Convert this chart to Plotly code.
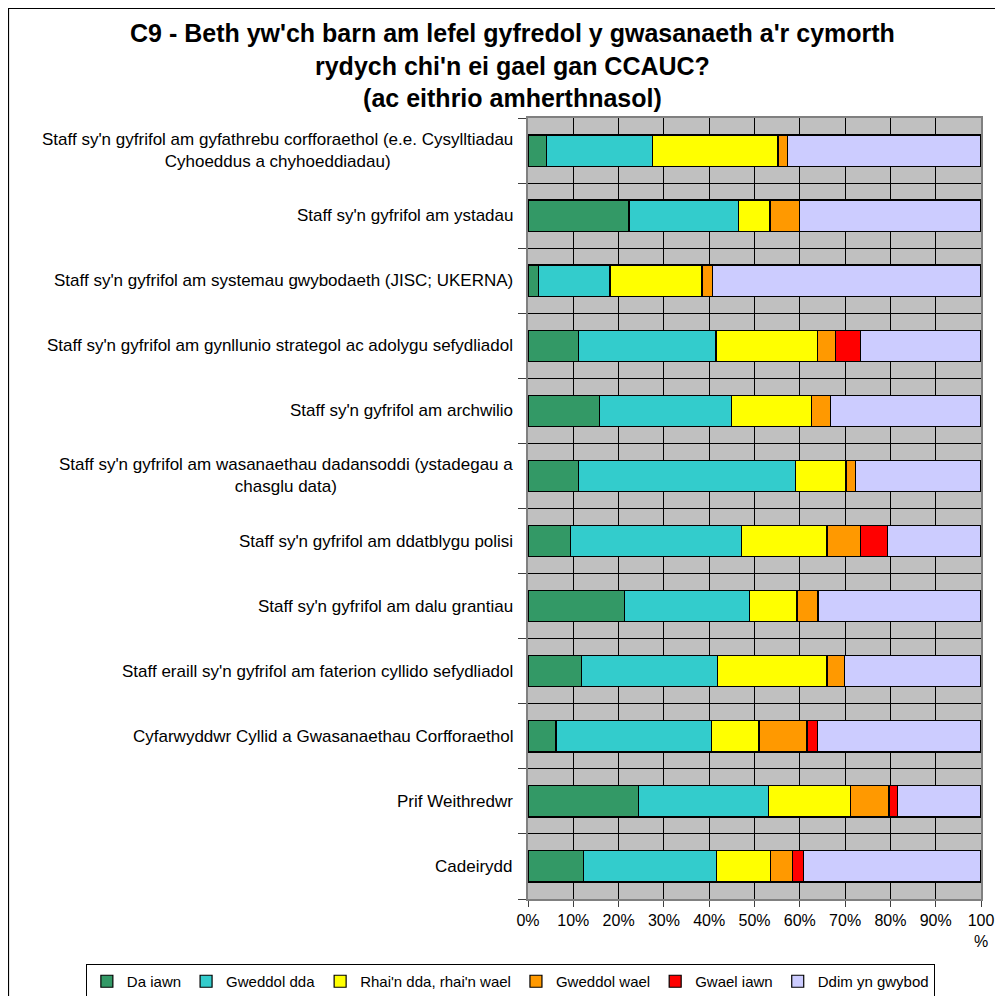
import plotly.graph_objects as go

categories = [
    "Staff sy'n gyfrifol am gyfathrebu corfforaethol (e.e. Cysylltiadau<br>Cyhoeddus a chyhoeddiadau)",
    "Staff sy'n gyfrifol am ystadau",
    "Staff sy'n gyfrifol am systemau gwybodaeth (JISC; UKERNA)",
    "Staff sy'n gyfrifol am gynllunio strategol ac adolygu sefydliadol",
    "Staff sy'n gyfrifol am archwilio",
    "Staff sy'n gyfrifol am wasanaethau dadansoddi (ystadegau a<br>chasglu data)",
    "Staff sy'n gyfrifol am ddatblygu polisi",
    "Staff sy'n gyfrifol am dalu grantiau",
    "Staff eraill sy'n gyfrifol am faterion cyllido sefydliadol",
    "Cyfarwyddwr Cyllid a Gwasanaethau Corfforaethol",
    "Prif Weithredwr",
    "Cadeirydd",
]

da_iawn =        [4.1, 22.3, 2.4, 11.2, 15.7, 11.2, 9.4, 21.3, 11.8, 6.2, 24.4, 12.2]
gweddol_dda =    [23.4, 24.1, 15.7, 30.3, 29.3, 47.8, 37.8, 27.6, 30.1, 34.3, 28.7, 29.4]
rhai_dda_wael =  [27.7, 7.0, 20.3, 22.4, 17.5, 11.2, 18.8, 10.5, 24.1, 10.5, 18.1, 11.9]
gweddol_wael =   [2.1, 6.6, 2.4, 3.9, 4.2, 2.1, 7.4, 4.6, 3.9, 10.6, 8.5, 4.9]
gwael_iawn =     [0.0, 0.0, 0.0, 5.6, 0.0, 0.0, 5.9, 0.0, 0.0, 2.3, 1.8, 2.5]
ddim_yn_gwybod = [42.7, 40.0, 59.2, 26.6, 33.3, 27.7, 20.7, 36.0, 30.1, 36.1, 18.5, 39.1]

series_names = ["Da iawn", "Gweddol dda", "Rhai'n dda, rhai'n wael",
                "Gweddol wael", "Gwael iawn", "Ddim yn gwybod"]
series_values = [da_iawn, gweddol_dda, rhai_dda_wael, gweddol_wael, gwael_iawn, ddim_yn_gwybod]
series_colors = ["#339966", "#33CCCC", "#FFFF00", "#FF9900", "#FF0000", "#CCCCFF"]

x_tickvals = [0, 10, 20, 30, 40, 50, 60, 70, 80, 90, 100]
x_ticktext = ["0%", "10%", "20%", "30%", "40%", "50%", "60%", "70%", "80%", "90%", "100<br>%"]

title_text = ("C9 - Beth yw'ch barn am lefel gyfredol y gwasanaeth a'r cymorth<br>"
              "rydych chi'n ei gael gan CCAUC?<br>(ac eithrio amherthnasol)")

FONT = "Liberation Sans, Arial, sans-serif"
ypos = list(range(len(categories)))

fig = go.Figure()
for name, vals, col in zip(series_names, series_values, series_colors):
    fig.add_trace(go.Bar(
        y=ypos, x=vals, name=name, orientation="h",
        marker=dict(color=col, line=dict(color="black", width=1.2)),
        hoverinfo="x+name",
    ))

annotations = []
for i, cat in enumerate(categories):
    annotations.append(dict(
        x=0, xref="paper", y=i, yref="y", text=cat, showarrow=False,
        xanchor="right", yanchor="middle", align="center", xshift=-13,
        font=dict(family=FONT, size=17, color="black"),
    ))
annotations.append(dict(
    x=-0.0353, xref="paper", y=1.0666, yref="paper", text=title_text,
    showarrow=False, xanchor="center", yanchor="middle", align="center",
    font=dict(family=FONT, size=25, color="black", weight="bold"),
))

fig.update_layout(
    barmode="stack",
    bargap=0.52,
    width=995, height=988,
    margin=dict(l=520, r=22, t=110, b=97, autoexpand=False),
    paper_bgcolor="white",
    plot_bgcolor="#C0C0C0",
    font=dict(family=FONT, size=16, color="black"),
    xaxis=dict(
        range=[0, 100], tickvals=x_tickvals, ticktext=x_ticktext,
        showgrid=True, gridcolor="black", gridwidth=1,
        ticks="outside", ticklen=6, tickcolor="#404040",
        showline=True, linecolor="#808080", linewidth=2, mirror=True,
        tickfont=dict(family=FONT, size=16), zeroline=False,
    ),
    yaxis=dict(
        range=[len(categories) - 0.5, -0.5],
        tickvals=ypos, showticklabels=False, ticks="", showgrid=False,
        zeroline=False,
        minor=dict(tickvals=[k - 0.5 for k in range(len(categories) + 1)],
                   showgrid=True, gridcolor="black", gridwidth=1,
                   ticks="outside", ticklen=8, tickcolor="#404040"),
        showline=True, linecolor="#808080", linewidth=2, mirror=True,
    ),
    legend=dict(
        orientation="h", x=-0.976, xanchor="left",
        y=-0.0832, yanchor="top",
        bordercolor="black", borderwidth=1, bgcolor="white",
        font=dict(family=FONT, size=15), traceorder="normal",
        itemwidth=30,
    ),
    annotations=annotations,
    shapes=[dict(type="rect", xref="paper", yref="paper",
                 x0=-1.1468, x1=1.2, y0=-0.3, y1=1.1402,
                 line=dict(color="black", width=1.2), layer="below")],
)

fig.write_html("out.html")
